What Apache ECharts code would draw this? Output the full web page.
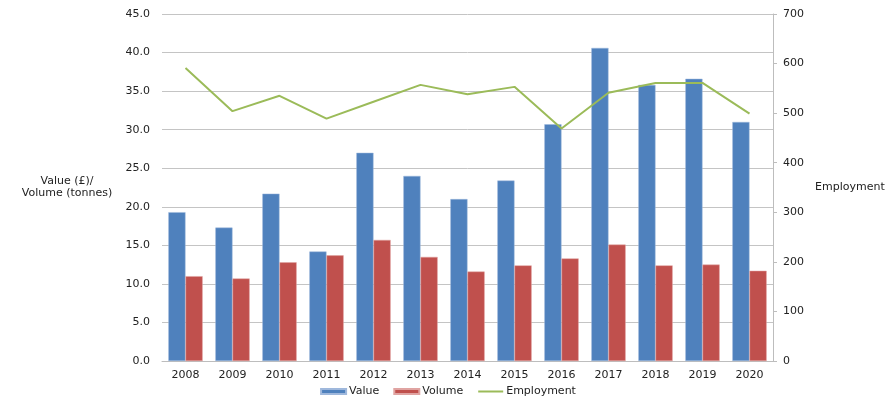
<!DOCTYPE html>
<html>
<head>
<meta charset="utf-8">
<script src="https://cdn.jsdelivr.net/npm/echarts@6/dist/echarts.min.js"></script>
<style>
  html, body { margin: 0; padding: 0; background: #fff; }
  #chart { width: 896px; height: 419px; }
</style>
</head>
<body>
<div id="chart"></div>
<script>
const years = ['2008', '2009', '2010', '2011', '2012', '2013', '2014', '2015', '2016', '2017', '2018', '2019', '2020'];
const valueData = [19.3, 17.3, 21.7, 14.2, 27.0, 24.0, 21.0, 23.4, 30.7, 40.6, 35.8, 36.6, 31.0];
const volumeData = [11.0, 10.7, 12.8, 13.7, 15.7, 13.5, 11.6, 12.4, 13.3, 15.1, 12.4, 12.5, 11.7];
const employmentData = [591, 504, 535, 489, 523, 557, 538, 553, 469, 541, 561, 561, 499];

const chart = echarts.init(document.getElementById('chart'));
const font = 'DejaVu Sans, Arial, sans-serif';

chart.setOption({
    animation: false,
    textStyle: { fontFamily: font },
    grid: { left: 162, right: 123, top: 14, bottom: 58 },
    legend: {
        bottom: 17,
        left: 'center',
        itemWidth: 25,
        itemHeight: 5,
        itemGap: 14,
        textStyle: { fontSize: 11, color: '#222', padding: [0, 0, 0, -2] },
        data: [
            { name: 'Value', icon: 'rect' },
            { name: 'Volume', icon: 'rect' },
            { name: 'Employment', itemStyle: { opacity: 0 } }
        ]
    },
    xAxis: {
        type: 'category',
        data: years,
        axisLine: { lineStyle: { color: '#bdbdbd' } },
        axisTick: { show: false },
        axisLabel: { fontSize: 11, color: '#222', margin: 9 }
    },
    yAxis: [
        {
            type: 'value',
            min: 0,
            max: 45,
            interval: 5,
            name: 'Value (£)/\nVolume (tonnes)',
            nameLocation: 'middle',
            nameRotate: 0,
            nameGap: 95,
            nameTextStyle: { fontSize: 11, color: '#222', align: 'center', lineHeight: 12, padding: [11, 0, 0, 0] },
            axisLine: { show: false },
            axisTick: { show: false },
            axisLabel: { fontSize: 11, color: '#222', margin: 12, formatter: v => v.toFixed(1) },
            splitLine: { lineStyle: { color: '#c4c4c4', width: 1 } }
        },
        {
            type: 'value',
            min: 0,
            max: 700,
            interval: 100,
            name: 'Employment',
            nameLocation: 'middle',
            nameRotate: 0,
            nameGap: 42,
            nameTextStyle: { fontSize: 11, color: '#222', align: 'left' },
            axisLine: { show: true, lineStyle: { color: '#bdbdbd' } },
            axisTick: { show: true, length: 4, lineStyle: { color: '#bdbdbd' } },
            axisLabel: { fontSize: 11, color: '#222', margin: 10 },
            splitLine: { show: false }
        }
    ],
    series: [
        {
            name: 'Value',
            type: 'bar',
            data: valueData,
            barGap: '0%',
            barCategoryGap: '27%',
            itemStyle: { color: '#4f81bd', borderColor: '#9fb8dc', borderWidth: 0.5 }
        },
        {
            name: 'Volume',
            type: 'bar',
            data: volumeData,
            itemStyle: { color: '#c0504d', borderColor: '#e0a4a2', borderWidth: 0.5 }
        },
        {
            name: 'Employment',
            type: 'line',
            yAxisIndex: 1,
            data: employmentData,
            symbol: 'none',
            itemStyle: { color: '#9bbb59' },
            lineStyle: { color: '#9bbb59', width: 2 }
        }
    ]
});
</script>
</body>
</html>
